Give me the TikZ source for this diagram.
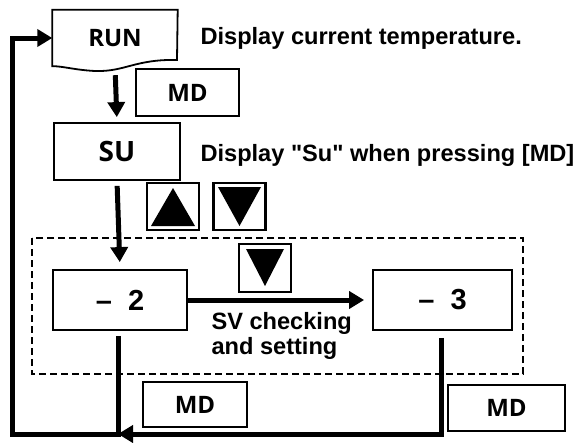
\documentclass[tikz,border=0pt]{standalone}
\usepackage{fontspec}
\setmainfont{Liberation Sans}[Ligatures=TeXOff]
\newfontfamily\keyfont{Open Sans}
\usetikzlibrary{arrows.meta}

\begin{document}
\begin{tikzpicture}[x=1pt, y=-1pt,
  box/.style={draw, line width=1.8pt, inner sep=0pt, font=\keyfont\bfseries\fontsize{24}{28}\selectfont},
  keybox/.style={draw, line width=2.2pt, minimum width=52pt, minimum height=47pt},
  flow/.style={line width=5pt, -{Triangle[length=15pt, width=17pt]}},
  note/.style={anchor=west, align=left, font=\bfseries\fontsize{23.6}{25}\selectfont}]
  \useasboundingbox (0,0) rectangle (581,442);

  % mode boxes
  \node (run) at (115,38) [minimum width=125pt, minimum height=56pt, font=\keyfont\bfseries\fontsize{24}{28}\selectfont] {RUN};
  \draw[line width=1.8pt] (run.north west) -- (run.north east) -- (177,60)
    .. controls (135,59) and (125,72) .. (95,71) .. controls (75,70) and (62,66) .. (run.south west) -- cycle;
  \node[box, minimum width=126pt, minimum height=57pt, font=\keyfont\bfseries\fontsize{28}{32}\selectfont] (su) at (117,151.5) {SU};
  \node[box, minimum width=134pt, minimum height=60pt, font=\bfseries\fontsize{29}{32}\selectfont] (n2) at (120,300) {–\ \ 2};
  \node[box, minimum width=139pt, minimum height=60pt, font=\bfseries\fontsize{29}{32}\selectfont] (n3) at (442.5,300) {–\ \ 3};

  % keys
  \node[box, minimum width=103pt, minimum height=47pt] (md1) at (187.5,92.5) {MD};
  \node[box, minimum width=104pt, minimum height=45pt] (md2) at (195,404.5) {MD};
  \node[box, minimum width=117pt, minimum height=46pt] (md3) at (506.5,408) {MD};
  \node[keybox] (kup) at (173,206.5) {};
  \node[keybox] (kdown) at (239.5,206.5) {};
  \node[keybox, minimum height=48pt] (kset) at (265,268) {};
  \fill (173,188) -- (195,226) -- (151,226) -- cycle;
  \fill (218,187) -- (261,187) -- (239.5,226) -- cycle;
  \fill (246,249) -- (284,249) -- (265,286) -- cycle;

  % setting group
  \draw[line width=1.6pt, dash pattern=on 7pt off 4pt] (32,238) rectangle (523,374);

  % texts
  \node[note] (t1) at (197,38) {Display current temperature.};
  \node[note] (t2) at (197,155) {Display "Su" when pressing [MD]};
  \node[note] (t3) at (208,336) {SV checking\\and setting};

  % flow
  \coordinate (loop) at (118,434);
  \draw[flow, shorten <=9pt, shorten >=5pt] (run.south) -- (su.north);
  \draw[flow, shorten <=5pt, shorten >=7pt] (su.south) -- (n2.north);
  \draw[flow, shorten >=8pt] (n2.east) -- (n3.west);
  \draw[flow, shorten <=5pt] ([xshift=-2pt]n2.south) -- (loop) -| ([xshift=-39.5pt]run.west) -- (run.west);
  \draw[flow, shorten <=7pt, shorten >=-5pt] ([xshift=-1.5pt]n3.south) |- ([xshift=5pt]loop);
\end{tikzpicture}
\end{document}
